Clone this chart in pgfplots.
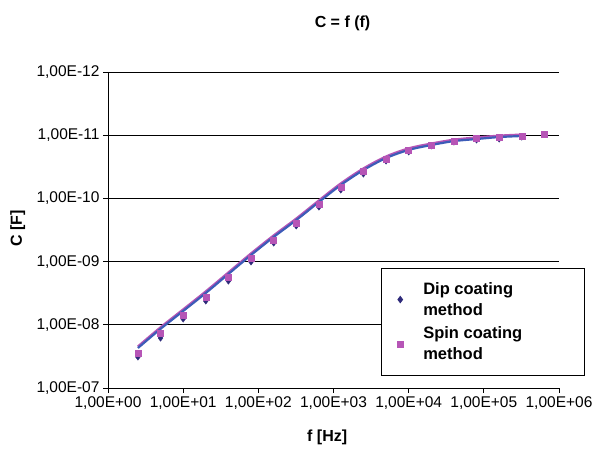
\documentclass[border=0pt]{standalone}
\usepackage{fontspec}
\setmainfont{Liberation Sans}
\usepackage{pgfplots}
\pgfplotsset{compat=1.18}
\definecolor{dipcol}{HTML}{2E2A7A}
\definecolor{spincol}{HTML}{B655B6}
\definecolor{linecol}{HTML}{3D5CB8}
\begin{document}
\begin{tikzpicture}[x=1pt,y=1pt]
\path[use as bounding box] (0,0) rectangle (594,448);
\begin{axis}[
  at={(108pt,60pt)}, anchor=south west,
  scale only axis, width=451pt, height=316pt,
  xmode=log, ymode=log, y dir=reverse,
  xmin=1, xmax=1e6, ymin=1e-12, ymax=1e-7,
  axis x line*=bottom, axis y line*=left,
  axis line style={black, line width=0.8pt, -},
  xtick={1,10,100,1000,10000,100000,1000000},
  xticklabels={{1,00E+00},{1,00E+01},{1,00E+02},{1,00E+03},{1,00E+04},{1,00E+05},{1,00E+06}},
  ytick={1e-12,1e-11,1e-10,1e-9,1e-8,1e-7},
  yticklabels={{1,00E-12},{1,00E-11},{1,00E-10},{1,00E-09},{1,00E-08},{1,00E-07}},
  xminorticks=false, yminorticks=false,
  ymajorgrids, grid style={black, line width=0.8pt},
  tick align=outside, major tick length=5pt,
  tick style={black, line width=0.8pt},
  tick label style={font=\fontsize{15.5}{18}\selectfont},
  /pgf/number format/assume math mode=true,
  title={\textbf{C = f (f)}},
  title style={at={(axis description cs:0.52,1.135)}, anchor=center, font=\fontsize{16}{19}\selectfont},
  xlabel={\textbf{f [Hz]}},
  xlabel style={at={(axis description cs:0.486,-0.155)}, anchor=center, font=\fontsize{16}{19}\selectfont},
  ylabel={\textbf{C [F]}},
  ylabel style={at={(axis description cs:-0.2,0.506)}, anchor=center, font=\fontsize{16}{19}\selectfont},
  legend style={at={(axis description cs:0.605,0.38)}, anchor=north west,
    draw=black, line width=0.8pt, font=\bfseries\fontsize{16.5}{21}\selectfont,
    cells={anchor=west, align=left}, row sep=6pt, inner xsep=16pt, inner ysep=12pt,
    /tikz/every odd column/.append style={column sep=18pt}},
]
% Dip coating method (markers)
\addplot[only marks, mark=diamond*, mark size=3.2pt, color=dipcol] coordinates {
  (2.5,3.23e-8) (5,1.62e-8) (10,8.09e-9) (20,4.20e-9) (40,2.03e-9) (80,1.01e-9)
  (160,5.08e-10) (320,2.73e-10) (640,1.37e-10) (1250,7.36e-11) (2500,4.11e-11)
  (5000,2.56e-11) (10000,1.84e-11) (20000,1.48e-11) (40000,1.28e-11)
  (80000,1.19e-11) (160000,1.15e-11) (320000,1.07e-11)
};
\addlegendentry{Dip coating\\method}
% Spin coating method (markers)
\addplot[only marks, mark=square*, mark size=3pt, color=spincol] coordinates {
  (2.5,2.79e-8) (5,1.35e-8) (10,7.0e-9) (20,3.63e-9) (40,1.75e-9) (80,8.77e-10)
  (160,4.55e-10) (320,2.45e-10) (640,1.23e-10) (1250,6.6e-11) (2500,3.68e-11)
  (5000,2.38e-11) (10000,1.71e-11) (20000,1.43e-11) (40000,1.24e-11)
  (80000,1.11e-11) (160000,1.07e-11) (320000,1.03e-11) (640000,9.57e-12)
};
\addlegendentry{Spin coating\hspace*{44pt}\\method}
% trend lines
\addplot[forget plot, smooth, no markers, color=spincol, line width=2.4pt] coordinates {
  (2.5,2.21e-8) (5,1.10e-8) (10,5.73e-9) (20,2.97e-9) (40,1.49e-9) (80,7.45e-10)
  (160,3.87e-10) (320,2.09e-10) (640,1.08e-10) (1250,5.82e-11) (2500,3.37e-11)
  (5000,2.18e-11) (10000,1.62e-11) (20000,1.36e-11) (40000,1.18e-11)
  (80000,1.09e-11) (160000,1.02e-11) (320000,9.8e-12)
};
\addplot[forget plot, smooth, no markers, color=linecol, line width=2.2pt] coordinates {
  (2.5,2.33e-8) (5,1.16e-8) (10,6.05e-9) (20,3.14e-9) (40,1.57e-9) (80,7.87e-10)
  (160,4.08e-10) (320,2.20e-10) (640,1.14e-10) (1250,6.14e-11) (2500,3.56e-11)
  (5000,2.30e-11) (10000,1.71e-11) (20000,1.43e-11) (40000,1.24e-11)
  (80000,1.15e-11) (160000,1.07e-11) (320000,1.03e-11)
};
\end{axis}
\end{tikzpicture}
\end{document}
